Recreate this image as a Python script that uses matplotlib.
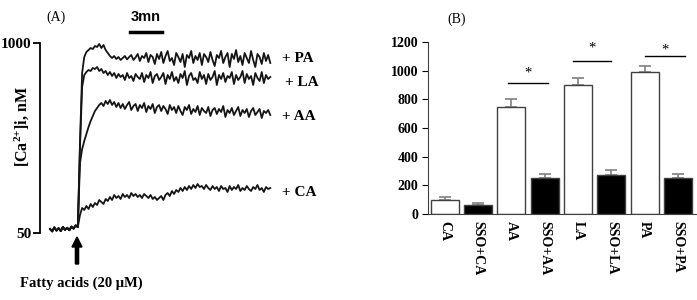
import numpy as np
import matplotlib
matplotlib.use("Agg")
import matplotlib.pyplot as plt

plt.rcParams["mathtext.fontset"] = "custom"
plt.rcParams["mathtext.rm"] = "Liberation Serif:bold"
plt.rcParams["mathtext.default"] = "rm"

# ---------------- data ----------------
# Panel A: [Ca2+]i traces (nM, display units), sampled every 0.2 min
dt = 0.2
t_start = 0.94
baseline = [70, 58, 78, 62, 74, 60, 80, 66, 76, 64, 82, 72, 88, 80]
pa_post = [500, 850, 930, 955, 965, 975, 970, 985, 980, 995,
           975, 990, 965, 950, 935, 925, 935, 920, 930, 915,
           925, 935, 918, 930, 940, 915, 928, 945, 910, 935,
           925, 950, 905, 940, 930, 895, 945, 920, 955, 900,
           935, 960, 910, 925, 890, 950, 930, 905, 945, 880,
           940, 925, 960, 900, 935, 915, 950, 890, 945, 930,
           905, 955, 915, 885, 940, 925, 960, 900, 930, 950,
           880, 945, 920, 965, 905, 935, 890, 950, 925, 900,
           960, 915, 880, 945, 930, 895, 950, 910, 940, 900]
la_post = [480, 780, 840, 855, 865, 860, 875, 870, 880, 860,
           870, 850, 860, 840, 855, 835, 850, 825, 845, 830,
           840, 815, 850, 825, 835, 810, 845, 830, 820, 850,
           805, 840, 825, 855, 800, 835, 845, 815, 830, 850,
           795, 840, 820, 855, 810, 830, 800, 845, 825, 860,
           790, 835, 850, 815, 825, 800, 855, 820, 840, 795,
           845, 815, 830, 860, 790, 840, 820, 850, 805, 835,
           825, 855, 795, 840, 815, 830, 860, 800, 845, 820,
           835, 790, 850, 825, 810, 855, 800, 840, 820, 830]
aa_post = [400, 470, 510, 545, 580, 610, 635, 660, 675, 690,
           700, 685, 710, 695, 715, 690, 705, 680, 700, 675,
           695, 670, 690, 705, 665, 685, 695, 660, 690, 675,
           700, 655, 685, 670, 695, 650, 680, 690, 660, 685,
           670, 645, 690, 665, 680, 650, 685, 660, 640, 680,
           665, 690, 645, 670, 655, 685, 640, 675, 660, 650,
           680, 635, 665, 675, 645, 670, 655, 685, 630, 665,
           650, 675, 640, 660, 680, 635, 665, 650, 670, 630,
           660, 675, 640, 655, 670, 625, 660, 650, 665, 640]
ca_post = [140, 175, 165, 185, 170, 195, 180, 200, 190, 215,
           205, 195, 220, 210, 230, 215, 240, 225, 235, 220,
           245, 230, 240, 225, 250, 235, 245, 230, 240, 225,
           245, 235, 225, 240, 220, 230, 215, 225, 235, 215,
           240, 250, 235, 260, 245, 265, 255, 275, 260, 280,
           265, 285, 270, 290, 275, 295, 280, 285, 270, 290,
           275, 265, 285, 270, 280, 260, 285, 270, 275, 255,
           285, 265, 280, 270, 290, 260, 275, 265, 285, 270,
           260, 280, 270, 290, 265, 275, 255, 280, 270, 275]
trace_labels = ["+ PA", "+ LA", "+ AA", "+ CA"]
label_levels = [920, 800, 635, 250]
label_x = [22.6, 22.9, 22.6, 22.6]

# Panel B
categories = ["CA", "SSO+CA", "AA", "SSO+AA", "LA", "SSO+LA", "PA", "SSO+PA"]
values = [100, 65, 750, 248, 900, 270, 990, 248]
errors = [20, 12, 50, 32, 50, 40, 45, 28]
filled = [False, True, False, True, False, True, False, True]
sig_pairs = [(1.9, 3.1, 915, 985), (3.85, 5.0, 1065, 1160), (6.0, 7.2, 1100, 1145)]

# ---------------- figure ----------------
fig = plt.figure(figsize=(6.97, 3.0), dpi=100)
serif = "Liberation Serif"

# Panel A
axA = fig.add_axes([40/697, 1-233/300, (272-40)/697, 190/300])
traces = [baseline + pa_post, baseline + la_post, baseline + aa_post, baseline + ca_post]
for tr in traces:
    t = t_start + np.arange(len(tr)) * dt
    axA.plot(t, tr, color="#151515", lw=1.3)
axA.set_ylim(50, 1000)
axA.set_xlim(0, 21.7)
axA.set_yticks([50, 1000])
axA.set_yticklabels(["50", "1000"], fontfamily=serif, fontweight="bold", fontsize=11)
axA.set_xticks([])
for s in ["top", "right", "bottom"]:
    axA.spines[s].set_visible(False)
axA.spines["left"].set_linewidth(1.3)
axA.tick_params(axis="y", length=5, width=1.3, pad=1)
for lab, lev, lx in zip(trace_labels, label_levels, label_x):
    axA.text(lx, lev, lab, fontfamily=serif, fontweight="bold", fontsize=11,
             va="center", ha="left", clip_on=False)
fig.text(22/697, 1-127/300, "[Ca$^{2{+}}$]i, nM", rotation=90, fontfamily=serif,
         fontweight="bold", fontsize=11.5, ha="center", va="center")
fig.text(56/697, 1-17/300, "(A)", fontfamily=serif, fontsize=10, ha="center", va="center")
fig.text(146/697, 1-17/300, "3mn", fontfamily="Liberation Sans", fontweight="bold",
         fontsize=10.5, ha="center", va="center")
fig.add_artist(plt.Line2D([130/697, 162/697], [1-32/300, 1-32/300], color="black", lw=2.5))
fig.add_artist(matplotlib.patches.FancyArrow(77/697, 1-264/300, 0, 27/300, width=3.2/697,
               head_width=10/697, head_length=10/300, color="black", length_includes_head=True))
fig.text(81/697, 1-283/300, "Fatty acids (20 \u03bcM)", fontfamily=serif, fontweight="bold",
         fontsize=10.5, ha="center", va="center")

# Panel B
axB = fig.add_axes([428/697, 1-214/300, (697-428)/697, 172/300])
x = np.arange(len(categories))
for xi, v, e, f in zip(x, values, errors, filled):
    axB.bar(xi, v, width=0.84, color="black" if f else "white",
            edgecolor="#404040", linewidth=1.0, zorder=2)
    axB.errorbar(xi, v, yerr=[[0], [e]], color="#808080", capsize=4, elinewidth=1.2,
                 capthick=1.2, zorder=1)
for x0, x1, yl, ys in sig_pairs:
    axB.plot([x0, x1], [yl, yl], color="black", lw=1.0)
    axB.text((x0 + x1) / 2, ys, "*", fontfamily=serif, fontsize=10.5, ha="center", va="center")
axB.set_ylim(0, 1200)
axB.set_xlim(-0.5, 7.57)
axB.set_yticks(range(0, 1201, 200))
axB.set_yticklabels([str(v) for v in range(0, 1201, 200)], fontfamily=serif,
                    fontweight="bold", fontsize=10)
axB.set_xticks(x)
axB.set_xticklabels(categories, rotation=270, fontfamily=serif, fontweight="bold",
                    fontsize=10, va="top", ha="center")
axB.tick_params(axis="x", length=0, pad=5)
axB.tick_params(axis="y", length=4, pad=3)
for s in ["top", "right"]:
    axB.spines[s].set_visible(False)
axB.spines["left"].set_color("#404040")
axB.spines["bottom"].set_color("#404040")
fig.text(457/697, 1-19/300, "(B)", fontfamily=serif, fontsize=10, ha="center", va="center")

fig.savefig("out.png", dpi=100)
